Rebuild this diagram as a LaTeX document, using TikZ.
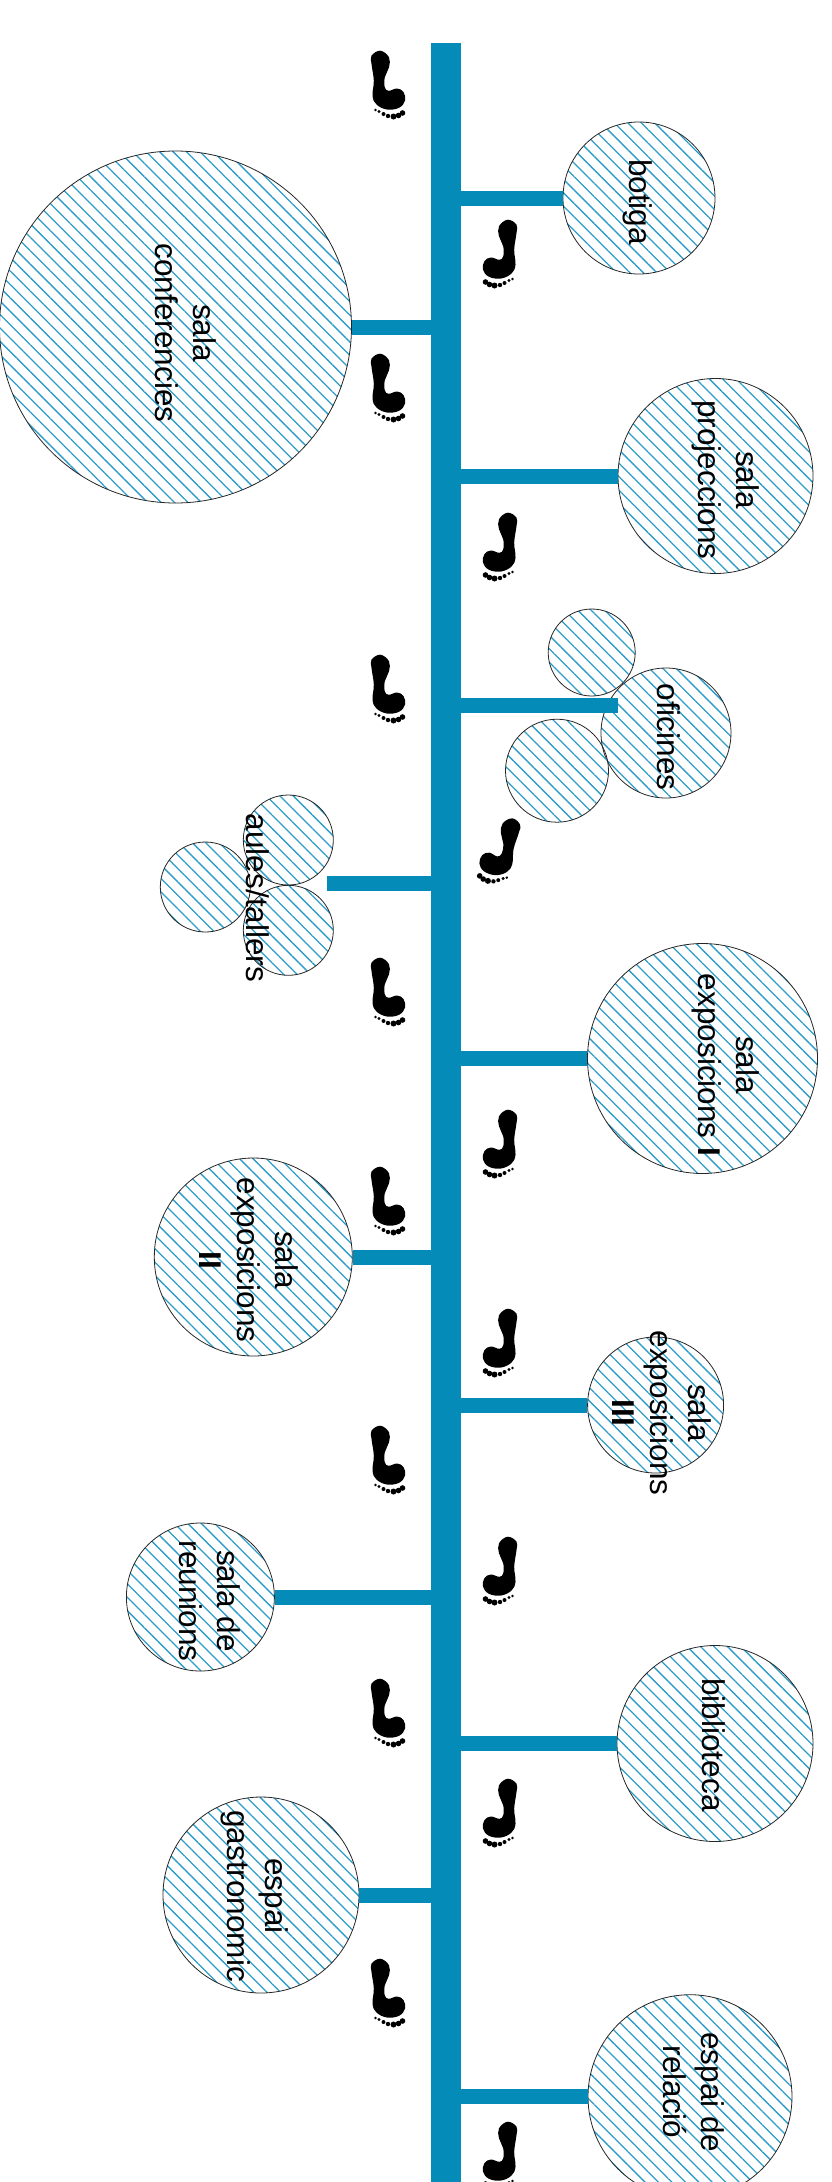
\documentclass[tikz,border=0pt]{standalone}
\usepackage{fontspec}
\setmainfont{Liberation Sans}
\usetikzlibrary{patterns.meta}
\definecolor{barblue}{HTML}{058BB8}
\definecolor{hatchblue}{HTML}{2E9CC8}
\tikzset{
	room/.style={circle,draw=black!85,line width=0.8pt,inner sep=0pt,minimum size=#1,
		pattern={Lines[angle=-45,distance=9.5pt,line width=1.3pt]},pattern color=hatchblue},
	roomtext/.style={rotate=-90,align=center,inner sep=0pt,font=\fontsize{31.5}{38}\selectfont},
	branch/.style={barblue,line width=15pt},
	bar/.style={barblue,line width=30pt},
	footstep/.pic={
		\fill[black] plot[smooth cycle,tension=.65] coordinates{(-6.7,-33.3)(2,-26.7)(2,-16.7)(-2.2,-6.7)(-2.2,3.3)(1.7,6.8)(10,4.5)(16.5,8)(18,16.7)(12,23.8)(0,25.5)(-10.5,20.5)(-14.5,11.7)(-13.2,-3.3)(-15.5,-20)(-15.5,-28.3)};
		\foreach \p/\q/\s in{-11.5/26/1.4,-8/27.5/1.7,-3.5/30/2,1/32/2.2,6.5/32.5/3,11.5/31.5/2.8,15.5/29/2.8}
		\fill[black](\p,\q)circle(\s);
	}
}
\begin{document}
\begin{tikzpicture}[x=1pt,y=-1pt]
	\useasboundingbox(0,0)rectangle(831,2182);
	\path(445.5,43)coordinate(bartop)(445.5,2182)coordinate(barend);
	\node[room=352pt](conferencies)at(175.5,327){};
	\node[room=152pt](botiga)at(639,198){};
	\node[room=195pt](projeccions)at(715.5,476){};
	\node[room=130pt](oficines)at(666,733){};
	\node[room=87pt](oficinesa)at(591.7,652.5){};
	\node[room=103pt](oficinesb)at(557,770.7){};
	\node[room=90pt](aulesa)at(288.3,840){};
	\node[room=90pt](aulesb)at(288.3,930.3){};
	\node[room=90pt](aulesc)at(205.3,887){};
	\node[room=230pt](exposicionsI)at(702.5,1058.5){};
	\node[room=198pt](exposicionsII)at(253.3,1257){};
	\node[room=136pt](exposicionsIII)at(655.6,1405){};
	\node[room=148pt](reunions)at(200.4,1597){};
	\node[room=196pt](biblioteca)at(715,1743.5){};
	\node[room=196pt](gastronomic)at(261,1895){};
	\node[room=204pt](relacio)at(690,2096.7){};
	\path(617.7,705)coordinate(oficinesend)(326.7,883)coordinate(aulesend);
	\draw[bar](bartop)--(barend);
	\foreach \d in{botiga,projeccions,exposicionsI,exposicionsIII,biblioteca,relacio,conferencies,exposicionsII,reunions,gastronomic}
	\draw[branch](bartop|-\d)--(\d);
	\draw[branch](bartop|-oficinesend)--(oficinesend);
	\draw[branch](bartop|-aulesend)--(aulesend);
	\node[roomtext](conferenciest)at(186,333){sala\\conferencies};
	\node[roomtext](botigat)at(638,202){botiga};
	\node[roomtext](projeccionst)at(726,480){sala\\projeccions};
	\node[roomtext](oficinest)at(669,737){oficines};
	\node[roomtext](aulest)at(258,898){aules/tallers};
	\node[roomtext](exposicionsIt)at(726,1065){sala\\exposicions \textbf{I}};
	\node[roomtext](exposicionsIIt)at(249,1260){sala\\exposicions\\\textbf{II}};
	\node[roomtext](exposicionsIIIt)at(662,1413){sala\\exposicions\\\textbf{III}};
	\node[roomtext](reunionst)at(210,1601){sala de\\reunions};
	\node[roomtext](bibliotecat)at(714,1745){biblioteca};
	\node[roomtext](gastronomict)at(255,1896){espai\\gastronomic};
	\node[roomtext](relaciot)at(694,2092){espai de\\relació};
	\foreach \y in{84,387,688,991,1200,1459,1712,1992}
	\pic at(387,\y){footstep};
	\foreach \y in{253,546,1143,1342,1570,1812,2155}
	\pic[xscale=-1] at(501,\y){footstep};
	\pic[xscale=-1,rotate=10] at(500,850){footstep};
\end{tikzpicture}
\end{document}
